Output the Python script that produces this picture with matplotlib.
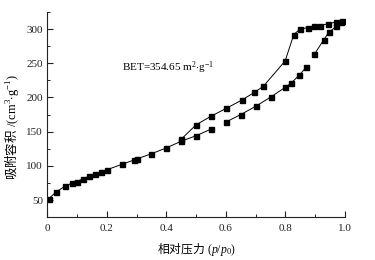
import numpy as np
import matplotlib
matplotlib.use("Agg")
import matplotlib.pyplot as plt
from matplotlib.ticker import MultipleLocator, FixedLocator, FixedFormatter

plt.rcParams['font.family'] = ['Liberation Serif', 'Noto Sans CJK SC', 'DejaVu Sans']
plt.rcParams['mathtext.fontset'] = 'custom'
plt.rcParams['mathtext.rm'] = 'Liberation Serif'
plt.rcParams['mathtext.it'] = 'Liberation Serif:italic'
plt.rcParams['mathtext.sf'] = 'Noto Sans CJK SC'

nan = np.nan
# adsorption branch (NaN marks a break in the line)
ads_x = [0.005, 0.030, 0.060, 0.083, 0.099, 0.119, 0.139, 0.160, 0.181, 0.201,
         0.250, 0.293, 0.300, 0.349, 0.399, 0.450, 0.500, 0.550, nan,
         0.600, 0.650, 0.700, 0.751, 0.800, 0.820, 0.847, 0.870, nan,
         0.897, 0.929, 0.946, 0.971, 0.985]
ads_y = [52, 61.8, 70.3, 74.7, 76.7, 81, 84.5, 88, 91, 94.4,
         102, 108.8, 110, 117.5, 126, 136, 144, 153.7, nan,
         164, 175, 187, 200.7, 215, 221.4, 232.7, 244.5, nan,
         263, 284.5, 295.5, 303.8, 310]
# desorption branch
des_x = [0.989, 0.969, 0.944, 0.917, 0.897, 0.875, 0.849, 0.828, 0.799,
         0.726, 0.696, 0.653, 0.601, 0.550, 0.500, 0.450]
des_y = [311.8, 310, 308, 305, 303.8, 302, 300, 292, 253.4,
         216.4, 207.5, 196, 184, 172.5, 160, 139]

x_ticks = [0, 0.2, 0.4, 0.6, 0.8, 1.0]
x_tick_labels = ['0', '0.2', '0.4', '0.6', '0.8', '1.0']
y_ticks = [50, 100, 150, 200, 250, 300]

fig = plt.figure(figsize=(3.75, 2.6), dpi=100)
ax = fig.add_axes([0.126, 0.165, 0.794, 0.789])

style = dict(color='black', lw=0.7, marker='s', ms=3.6, mfc='black', mec='black')
ax.plot(ads_x, ads_y, **style)
ax.plot(des_x, des_y, **style)

ax.set_xlim(0, 1.0)
ax.set_ylim(25, 325)
ax.xaxis.set_major_locator(FixedLocator(x_ticks))
ax.xaxis.set_major_formatter(FixedFormatter(x_tick_labels))
ax.xaxis.set_minor_locator(MultipleLocator(0.1))
ax.yaxis.set_major_locator(FixedLocator(y_ticks))
ax.yaxis.set_minor_locator(MultipleLocator(25))

for s in ['top', 'right']:
    ax.spines[s].set_visible(False)
for s in ['left', 'bottom']:
    ax.spines[s].set_linewidth(0.8)
    ax.spines[s].set_color('#222222')

ax.tick_params(which='major', direction='in', length=4.5, width=0.8, labelsize=8, pad=5, colors='#222222')
ax.tick_params(which='minor', direction='in', length=2.5, width=0.7, colors='#222222')
ax.tick_params(axis='y', pad=3)

ax.text(0.25, 243, r'BET=354.65 m$^{2}$$\cdot$g$^{-1}$', fontsize=8, ha='left', va='center')

ax.set_xlabel(r'$\mathsf{相对压力}$ ($p$/$p_0$)', fontsize=8.5, labelpad=6)
ax.set_ylabel(r'$\mathsf{吸附容积}$ /(cm$^3$$\cdot$g$^{-1}$)', fontsize=9)
ax.yaxis.set_label_coords(-0.088, 0.44)

fig.savefig('out.png', dpi=100)
